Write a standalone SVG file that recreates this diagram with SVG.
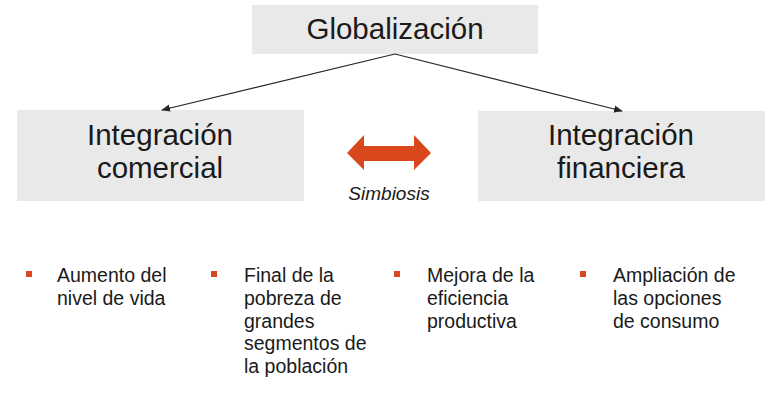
<svg xmlns="http://www.w3.org/2000/svg" width="774" height="403" viewBox="0 0 774 403">
<defs>
<style>
.box{fill:#e9e9e9}
.t{font-family:"Liberation Sans",Arial,sans-serif;fill:#1a1a1a}
.big{font-size:29.5px}
.sm{font-size:19.5px}
.b{fill:#d9481c}
.c{stroke:#262626;stroke-width:1.2;fill:none}
</style>
<marker id="ah" viewBox="0 0 10 10" refX="9" refY="5" markerWidth="9" markerHeight="9" markerUnits="userSpaceOnUse" orient="auto">
<path d="M0,1 L10,5 L0,9 z" fill="#262626"/>
</marker>
</defs>
<rect width="774" height="403" fill="#fff"/>
<g id="globalizacion">
<rect class="box" x="252" y="5" width="286" height="49"/>
<text class="t big" x="395" y="39" text-anchor="middle">Globalización</text>
</g>
<g id="comercial">
<rect class="box" x="17" y="110" width="287" height="91"/>
<text class="t big" x="160" y="145" text-anchor="middle">Integración</text>
<text class="t big" x="160" y="178" text-anchor="middle">comercial</text>
</g>
<g id="financiera">
<rect class="box" x="478" y="111" width="287" height="90"/>
<text class="t big" x="621" y="145" text-anchor="middle">Integración</text>
<text class="t big" x="621" y="178" text-anchor="middle">financiera</text>
</g>
<g id="connectors">
<line class="c" x1="395" y1="54" x2="162" y2="110" marker-end="url(#ah)"/>
<line class="c" x1="395" y1="54" x2="622" y2="111" marker-end="url(#ah)"/>
</g>
<g id="simbiosis">
<path class="b" d="M347,153 L364,135 L364,146 L414,146 L414,135 L431,153 L414,170 L414,161 L364,161 L364,170 Z"/>
<text class="t" x="389" y="200" font-size="19" font-style="italic" text-anchor="middle">Simbiosis</text>
</g>
<g id="bullet1">
<rect class="b" x="26" y="271" width="6" height="6"/>
<text class="t sm" x="57" y="282">Aumento del</text>
<text class="t sm" x="57" y="305">nivel de vida</text>
</g>
<g id="bullet2">
<rect class="b" x="211" y="271" width="6" height="6"/>
<text class="t sm" x="244" y="282">Final de la</text>
<text class="t sm" x="244" y="305">pobreza de</text>
<text class="t sm" x="244" y="328">grandes</text>
<text class="t sm" x="244" y="350">segmentos de</text>
<text class="t sm" x="244" y="373">la población</text>
</g>
<g id="bullet3">
<rect class="b" x="394" y="271" width="6" height="6"/>
<text class="t sm" x="427" y="282">Mejora de la</text>
<text class="t sm" x="427" y="305">eficiencia</text>
<text class="t sm" x="427" y="328">productiva</text>
</g>
<g id="bullet4">
<rect class="b" x="580" y="271" width="6" height="6"/>
<text class="t sm" x="613" y="282">Ampliación de</text>
<text class="t sm" x="613" y="305">las opciones</text>
<text class="t sm" x="613" y="328">de consumo</text>
</g>
</svg>
